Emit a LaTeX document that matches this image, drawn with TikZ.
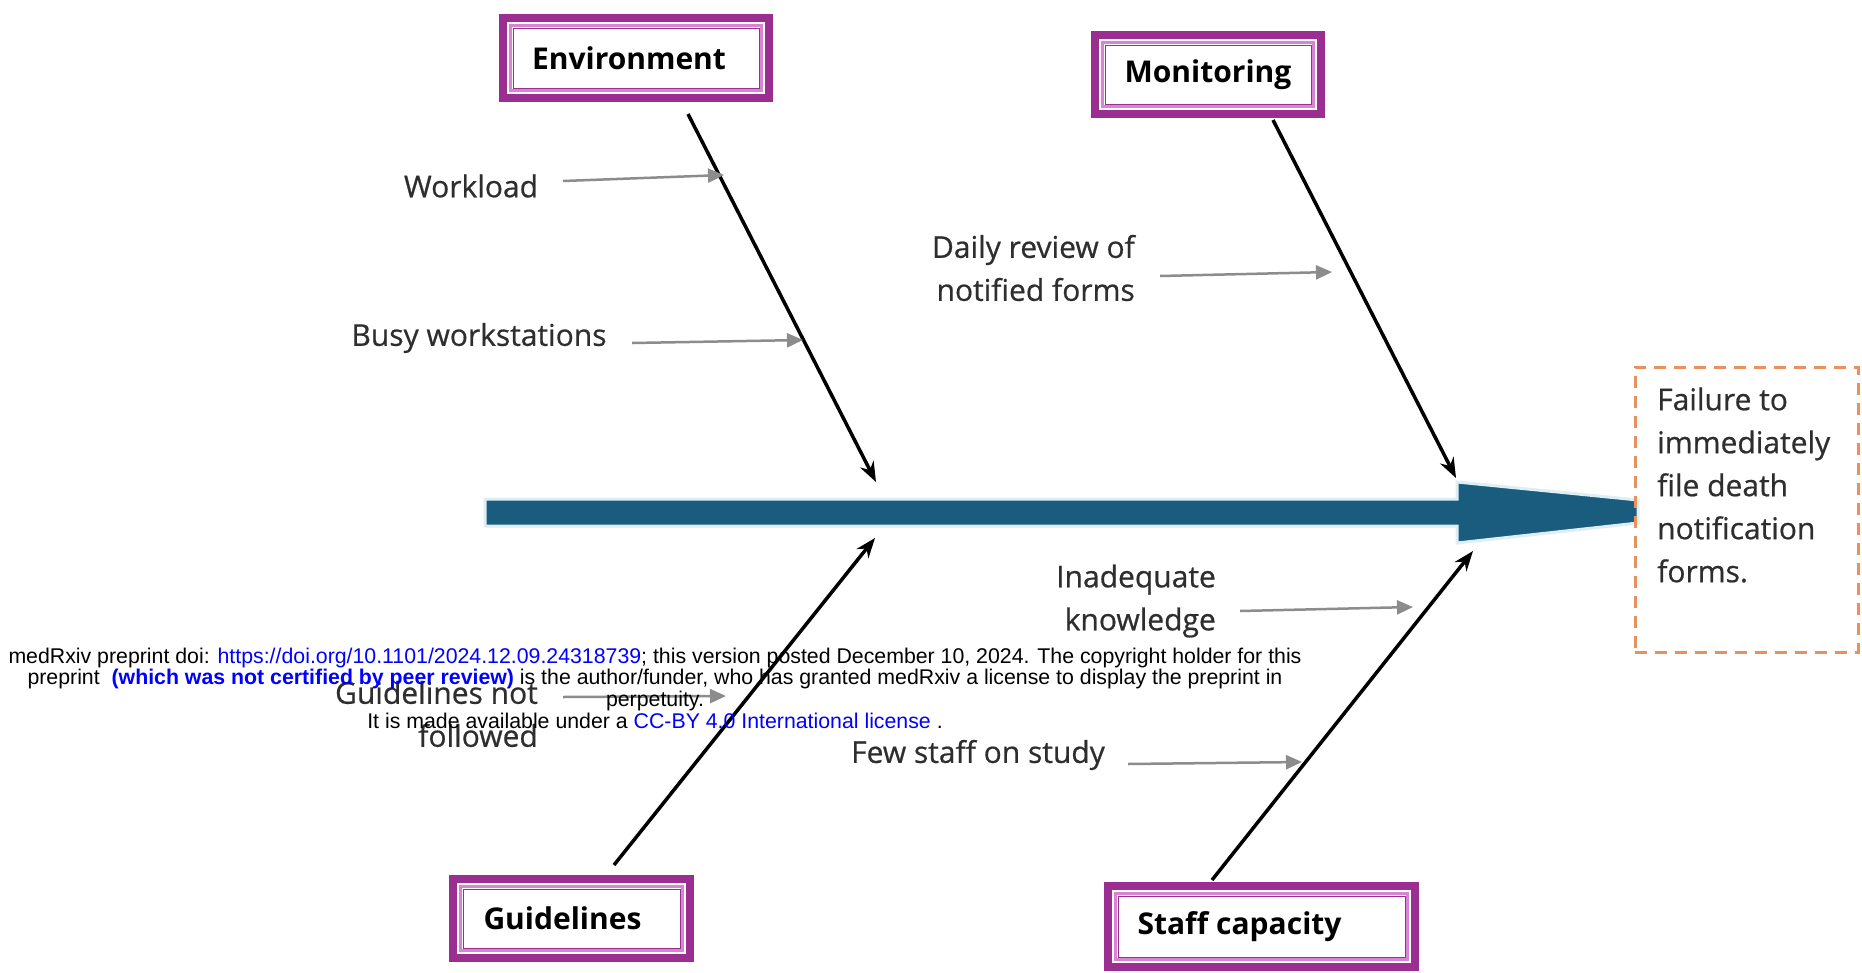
\documentclass[tikz,border=0pt]{standalone}
\usepackage{fontspec}
\setmainfont{Open Sans}
\newfontfamily\lblfont[FakeBold=0.6]{Open Sans}
\newfontfamily\arialfont{Liberation Sans}
\usetikzlibrary{arrows.meta}
\definecolor{boxpurple}{HTML}{9A2E91}
\definecolor{boxpink}{HTML}{D884D2}
\definecolor{spineblue}{HTML}{1A5C7D}
\definecolor{spineglow}{HTML}{DDEEF5}
\definecolor{greyarrow}{HTML}{8C8C8C}
\definecolor{labelgrey}{HTML}{2E2E2E}
\definecolor{dashorange}{HTML}{E9915C}
\definecolor{linkblue}{HTML}{0000FF}
\begin{document}
\begin{tikzpicture}[x=1pt,y=-1pt,
  catbox/.style={draw=boxpurple, line width=8pt, fill=white, inner sep=0pt,
    font=\fontsize{30}{34}\selectfont\bfseries, text=black,
    path picture={
      \draw[boxpink, line width=3pt]
        ([shift={(7.5pt,-7.5pt)}]path picture bounding box.north west) rectangle
        ([shift={(-7.5pt,7.5pt)}]path picture bounding box.south east);
      \draw[boxpurple, line width=1pt]
        ([shift={(10pt,-10pt)}]path picture bounding box.north west) rectangle
        ([shift={(-10pt,10pt)}]path picture bounding box.south east);}},
  lbl/.style={font=\lblfont\fontsize{30}{43}\selectfont, text=labelgrey, inner sep=0pt},
  bone/.style={draw=black, line width=3.5pt, -{Stealth[length=20pt,width=15pt]}},
  gar/.style={draw=greyarrow, line width=2.5pt, -{Triangle[length=16pt,width=14pt]}},
  hdr/.style={font=\arialfont\fontsize{21.3}{21.6}\selectfont, align=center, inner sep=0pt}
]
\useasboundingbox (0,0) rectangle (1862,972);
\fill[white] (0,0) rectangle (1862,972);

% spine with head
\draw[spineglow, line width=3pt, fill=spineblue, line join=miter]
  (485,499) -- (1457,499) -- (1457,482) -- (1638,500) -- (1638,523)
  -- (1457,543) -- (1457,526) -- (485,526) -- cycle;

% category boxes
\node[catbox, minimum width=266pt, minimum height=80pt] (env) at (636,58) {Environment\hspace*{14pt}};
\node[catbox, minimum width=226pt, minimum height=79pt] (mon) at (1208,74.5) {Monitoring};
\node[catbox, minimum width=237pt, minimum height=79pt] (guide) at (571.5,918.5) {Guidelines\hspace*{18pt}};
\node[catbox, minimum width=307pt, minimum height=81pt] (staff) at (1261.5,926.5) {Staff capacity\hspace*{44pt}};

% bones
\coordinate (envA) at (688,114);  \coordinate (envB) at (876,482);
\coordinate (monA) at (1273,120); \coordinate (monB) at (1456,478);
\coordinate (guiA) at (614,865);  \coordinate (guiB) at (875,538);
\coordinate (staA) at (1212,880); \coordinate (staB) at (1473,551);
\draw[bone] (envA) -- (envB);
\draw[bone] (monA) -- (monB);
\draw[bone] (guiA) -- (guiB);
\draw[bone] (staA) -- (staB);

% labels and small arrows
\node[lbl] (workload) at (471,186) {Workload};
\coordinate (wlA) at (563,181); \coordinate (wlB) at (724,175);
\draw[gar] (wlA) -- (wlB);

\node[lbl] (busy) at (479,338) {Busy workstations};
\coordinate (buA) at (632,343); \coordinate (buB) at (803,340);
\draw[gar] (buA) -- (buB);

\node[lbl, anchor=east, align=right] (daily) at (1135,268) {Daily review of\\notified forms};
\coordinate (daA) at (1160,276); \coordinate (daB) at (1332,272);
\draw[gar] (daA) -- (daB);

\node[lbl, anchor=east, align=right] (inad) at (1216,601) {Inadequate\\knowledge};
\coordinate (inA) at (1240,611); \coordinate (inB) at (1413,607);
\draw[gar] (inA) -- (inB);

\node[lbl, anchor=east, align=right] (notf) at (538,714) {Guidelines not\\followed};
\coordinate (nfA) at (563,697); \coordinate (nfB) at (726,696);
\draw[gar] (nfA) -- (nfB);

\node[lbl] (few) at (978,755) {Few staff on study};
\coordinate (fsA) at (1128,764); \coordinate (fsB) at (1302,762);
\draw[gar] (fsA) -- (fsB);

% result
\node[draw=dashorange, line width=3pt, dash pattern=on 12pt off 8pt,
      minimum width=223pt, minimum height=285pt, inner sep=0pt] (resbox) at (1746.5,509.5) {};
\node[lbl, anchor=west, align=left] (result) at (1657,485)
  {Failure to\\immediately\\file death\\notification\\forms.};

% medRxiv overlay
\node[hdr] (header) at (655,688) {medRxiv preprint doi: \textcolor{linkblue}{https://doi.org/10.1101/2024.12.09.24318739}; this version posted December 10, 2024. The copyright holder for this\\
preprint \ \textcolor{linkblue}{\bfseries (which was not certified by peer review)} is the author/funder, who has granted medRxiv a license to display the preprint in\\
perpetuity.\\
It is made available under a \textcolor{linkblue}{CC-BY 4.0 International license} .};
\end{tikzpicture}
\end{document}
